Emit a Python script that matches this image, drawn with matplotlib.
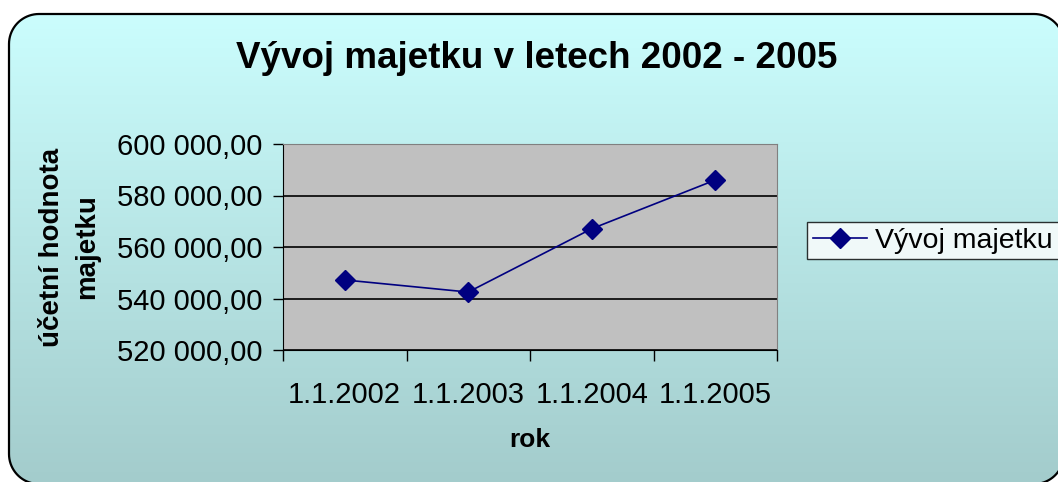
import numpy as np
import matplotlib.pyplot as plt
from matplotlib.path import Path
from matplotlib.patches import PathPatch
from matplotlib.ticker import FuncFormatter

plt.rcParams['font.family'] = ['Liberation Sans', 'DejaVu Sans']

# data
dates = ["1.1.2002", "1.1.2003", "1.1.2004", "1.1.2005"]
values = [547200, 542500, 567100, 586000]
yticks = [520000, 540000, 560000, 580000, 600000]

W, H = 1058, 482
fig = plt.figure(figsize=(W / 100, H / 100), dpi=100)
fig.patch.set_facecolor("white")


def rounded_rect(x0, y0, x1, y1, r, n=20):
    # corners in pixel coords, y pointing up
    pts = []
    for cx, cy, a0 in [(x1 - r, y1 - r, 0), (x0 + r, y1 - r, 90),
                       (x0 + r, y0 + r, 180), (x1 - r, y0 + r, 270)]:
        a = np.radians(np.linspace(a0, a0 + 90, n))
        pts += list(zip(cx + r * np.cos(a), cy + r * np.sin(a)))
    pts.append(pts[0])
    return Path(pts)


# gradient background inside a rounded frame (pixel coords, y up)
bg = fig.add_axes([0, 0, 1, 1], zorder=-10)
bg.set_xlim(0, W)
bg.set_ylim(0, H)
bg.axis("off")
top = np.array([0.80, 1.0, 1.0])
bot = np.array([0.64, 0.80, 0.80])
t = np.linspace(0, 1, 256)[:, None]
grad = (top * (1 - t) + bot * t)[:, None, :]
frame = PathPatch(rounded_rect(9, H - 484, 1064, H - 14, 30),
                  facecolor="none", edgecolor="black", linewidth=1.6, zorder=2)
bg.add_patch(frame)
im = bg.imshow(grad, extent=[0, W, 0, H], aspect="auto", origin="upper")
im.set_clip_path(frame)

ax = fig.add_axes([283 / W, 1 - 350 / H, (777 - 283) / W, (350 - 144) / H])
ax.set_facecolor("#c0c0c0")
x = np.arange(len(dates)) + 0.5
ax.plot(x, values, color="#000080", linewidth=1.2, marker="D",
        markersize=10.5, label="Vývoj majetku", zorder=3)

ax.set_xlim(0, len(dates))
ax.set_ylim(yticks[0], yticks[-1])
ax.set_yticks(yticks)
ax.yaxis.set_major_formatter(FuncFormatter(
    lambda v, p: f"{v:,.2f}".replace(",", " ").replace(".", ",")))
ax.set_xticks(np.arange(len(dates) + 1))
ax.set_xticklabels([])
ax.set_xticks(x, minor=True)
ax.set_xticklabels(dates, minor=True)
ax.tick_params(axis="x", which="minor", length=0, labelsize=21, pad=22)
ax.tick_params(axis="x", which="major", length=8, width=1)
ax.tick_params(axis="y", length=7, width=1, labelsize=21, pad=8)
ax.grid(axis="y", color="black", linewidth=1.2)

for s in ["left", "bottom"]:
    ax.spines[s].set_color("black")
for s in ["top", "right"]:
    ax.spines[s].set_color("#808080")

ax.set_xlabel("rok", fontsize=19, fontweight="bold", labelpad=14)
ax.set_ylabel("účetní hodnota\nmajetku", fontsize=20, fontweight="bold",
              labelpad=12, linespacing=1.45)

fig.text(537 / W, 1 - 59 / H, "Vývoj majetku v letech 2002 - 2005",
         ha="center", va="center", fontsize=26.5, fontweight="bold")

leg = fig.legend(loc="upper left", bbox_to_anchor=(807 / W, 1 - 222 / H),
                 fontsize=20.5, frameon=True, fancybox=False, handlelength=1.9,
                 borderpad=0.2, handletextpad=0.3, borderaxespad=0)
leg.get_frame().set_edgecolor("black")
leg.get_frame().set_linewidth(1)

fig.savefig("out.png", dpi=100)
